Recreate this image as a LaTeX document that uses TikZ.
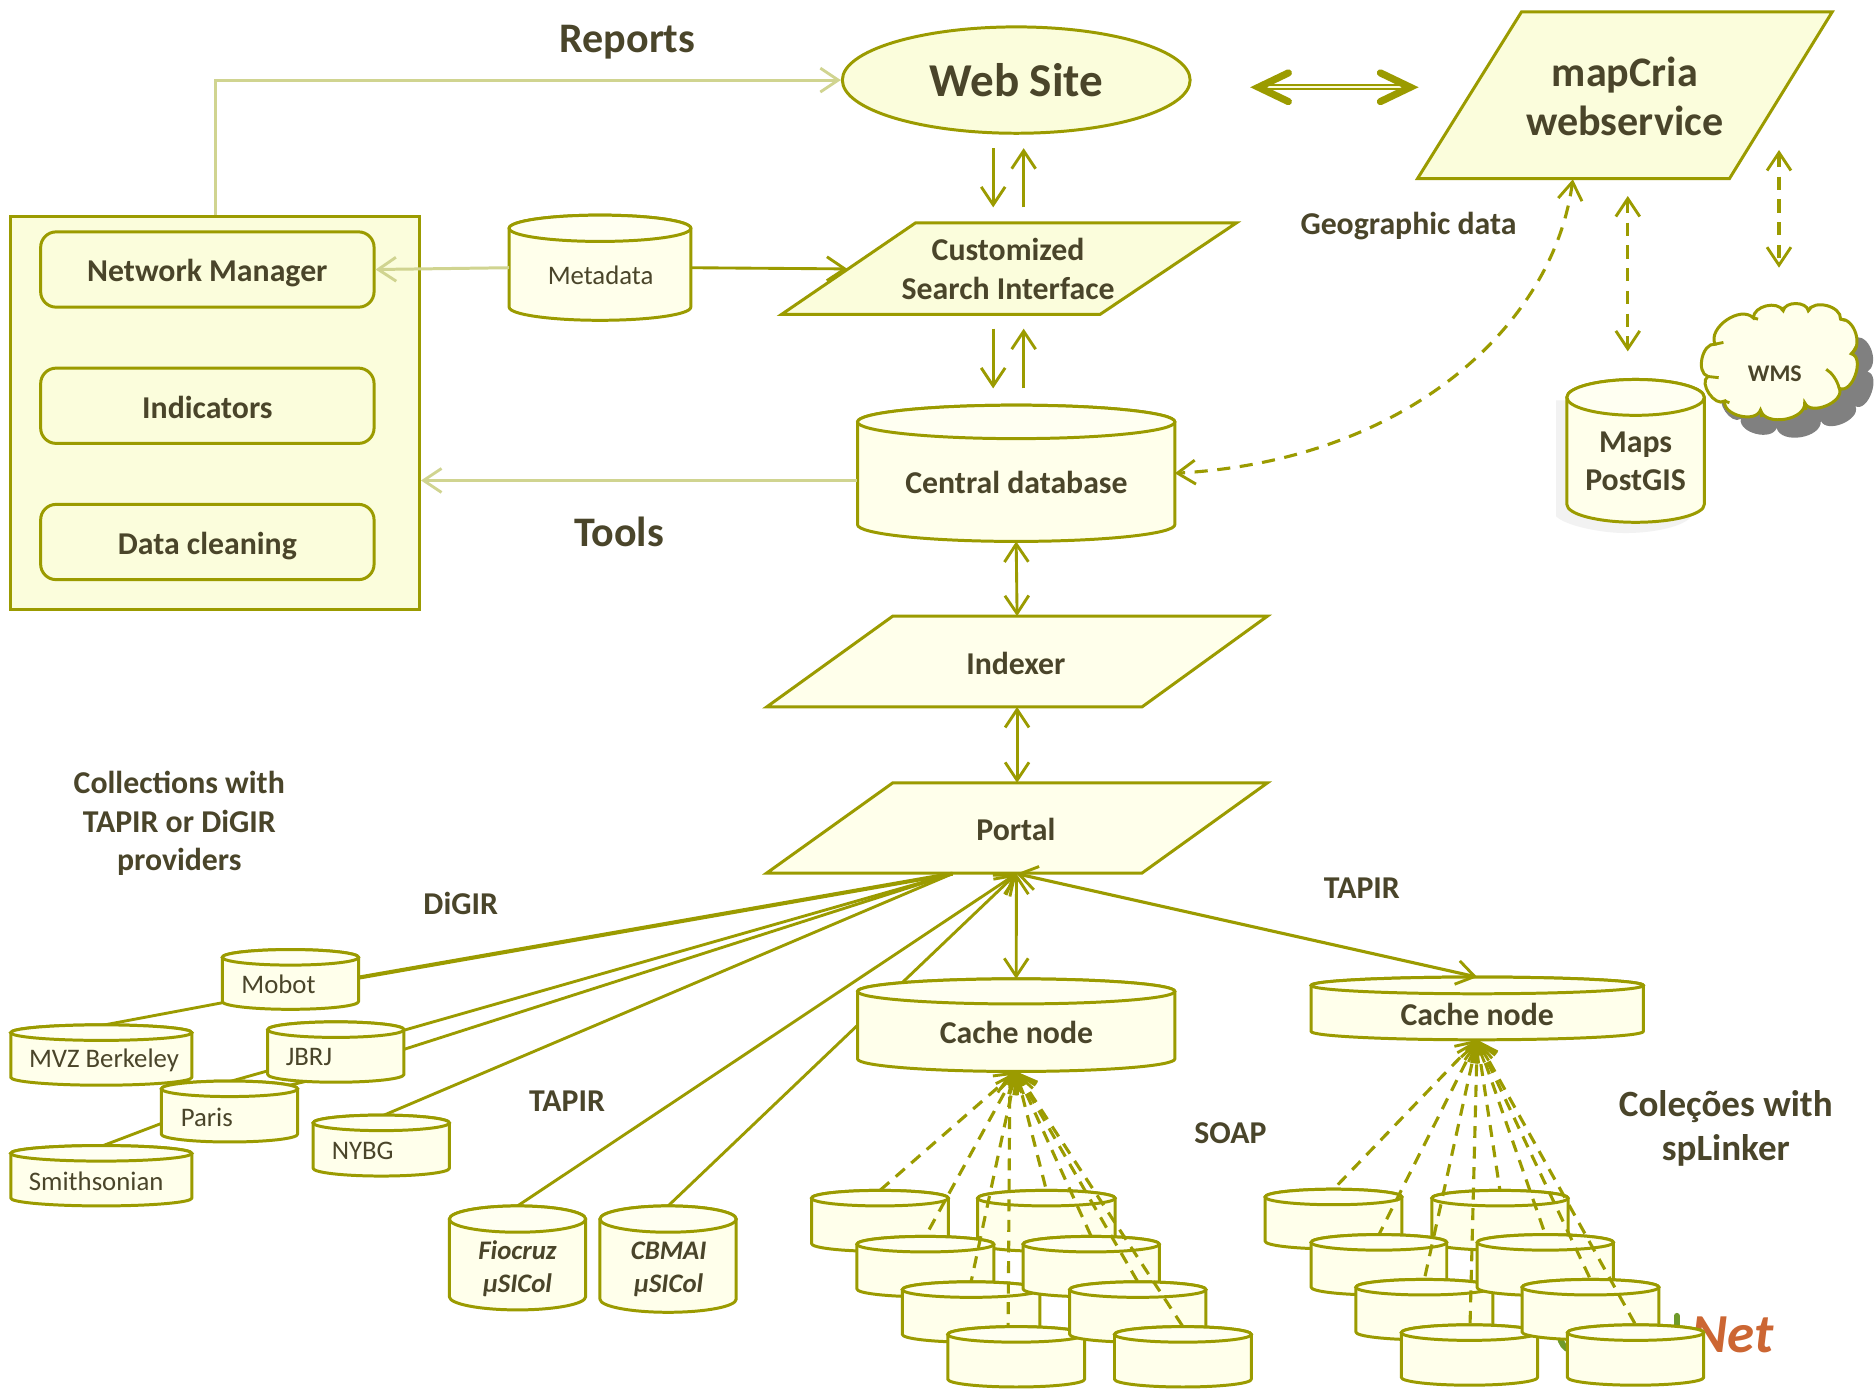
\documentclass[tikz,border=0pt]{standalone}
\usepackage{fontspec}
\setmainfont{Carlito}
\usetikzlibrary{arrows.meta,shapes.geometric,calc}
\definecolor{ol}{HTML}{9B9B00}
\definecolor{olL}{HTML}{D0D490}
\definecolor{txt}{HTML}{4A452A}
\definecolor{fillA}{HTML}{FBFDDC}
\definecolor{fillB}{HTML}{FFFFEB}
\definecolor{fillC}{HTML}{FFFFF2}
\definecolor{netc}{HTML}{CC6633}
\definecolor{leaf}{HTML}{6F9A2A}
\tikzset{
  cylline/.style={draw=ol,line width=1.25pt,fill=fillB,line join=round},
  cyltop/.style={draw=ol,line width=1.25pt,fill=fillC},
  anchorbox/.style={inner sep=0pt,outer sep=0pt},
  parashape/.style={draw=ol,line width=1.25pt,fill=#1,line join=miter},
  parashape/.default=fillB,
  lab/.style={text=txt,align=center,inner sep=0pt},
  fBig/.style={lab,font=\fontsize{17.6}{20.7}\selectfont\bfseries},
  fMid/.style={lab,font=\fontsize{13.3}{16}\selectfont\bfseries},
  fReg/.style={lab,font=\fontsize{11.2}{13.5}\selectfont},
  fIt/.style={lab,font=\fontsize{11.2}{13.5}\selectfont\bfseries\itshape},
  conn/.style={draw=ol,line width=1.2pt},
  connL/.style={draw=olL,line width=1.25pt},
  dsh/.style={draw=ol,line width=1.3pt,dash pattern=on 5pt off 3.6pt},
  >={Straight Barb[length=7.5pt,width=10pt,line width=1.2pt]},
  rbox/.style={draw=ol,line width=1.25pt,fill=fillA,rounded corners=6.5pt,minimum width=139.5pt,minimum height=31.5pt,inner sep=0pt,fMid,text height=10.4pt,text depth=0pt},
}
% name, x1, x2, top, bottom, ry, label position, label style, label text
\newcommand{\cyl}[9]{%
  \pgfmathsetmacro\cylcx{(#2+#3)/2}%
  \pgfmathsetmacro\cylrx{(#3-#2)/2}%
  \pgfmathsetmacro\cylyc{#4+#6}%
  \pgfmathsetmacro\cylyb{#5-#6}%
  \pgfmathsetmacro\cylkx{\cylrx*0.5523}%
  \pgfmathsetmacro\cylky{#6*0.5523}%
  \draw[cylline] (#2,\cylyc) -- (#2,\cylyb)
    .. controls (#2,\cylyb+\cylky) and (\cylcx-\cylkx,#5) .. (\cylcx,#5)
    .. controls (\cylcx+\cylkx,#5) and (#3,\cylyb+\cylky) .. (#3,\cylyb)
    -- (#3,\cylyc)
    .. controls (#3,\cylyc-\cylky) and (\cylcx+\cylkx,#4) .. (\cylcx,#4)
    .. controls (\cylcx-\cylkx,#4) and (#2,\cylyc-\cylky) .. (#2,\cylyc) -- cycle;
  \draw[cyltop] (#2,\cylyc)
    .. controls (#2,\cylyc+\cylky) and (\cylcx-\cylkx,\cylyc+#6) .. (\cylcx,\cylyc+#6)
    .. controls (\cylcx+\cylkx,\cylyc+#6) and (#3,\cylyc+\cylky) .. (#3,\cylyc)
    .. controls (#3,\cylyc-\cylky) and (\cylcx+\cylkx,#4) .. (\cylcx,#4)
    .. controls (\cylcx-\cylkx,#4) and (#2,\cylyc-\cylky) .. (#2,\cylyc) -- cycle;
  \node[anchorbox,minimum width={(#3-#2)*0.5pt},minimum height={(#5-#4)*0.5pt}] (#1) at (\cylcx,{(#4+#5)/2}) {};
  \node[#8] (#1-t) at (#7) {#9};
}
% name, TLx, TRx, BRx, BLx, top, bottom, fill
\newcommand{\para}[8]{%
  \draw[parashape=#8] (#2,#6) -- (#3,#6) -- (#4,#7) -- (#5,#7) -- cycle;
  \node[anchorbox,minimum width={(#3-#5)*0.5pt},minimum height={(#7-#6)*0.5pt}] (#1) at ({(#3+#5)/2},{(#6+#7)/2}) {};
}
\begin{document}
\begin{tikzpicture}[x=0.5pt,y=-0.5pt]
\fill[white] (0,0) rectangle (1568,1163);
\useasboundingbox (0,0) rectangle (1568,1163);

% tools box
\node[draw=ol,line width=1.25pt,fill=fillA,minimum width=171pt,minimum height=164.5pt,inner sep=0pt] (box) at (180,345.5) {};
\node[rbox] (nm) at (173.5,225.5) {Network Manager};
\node[rbox] (ind) at (173.5,339.5) {Indicators};
\node[rbox] (dc) at (173.5,453.5) {Data cleaning};

% top
\node[ellipse,draw=ol,line width=1.25pt,fill=fillA,minimum width=145.5pt,minimum height=44.5pt,inner sep=0pt,lab,font=\fontsize{19.7}{23}\selectfont\bfseries] (web) at (850.3,67) {Web Site};
\node[fBig] (rep) at (525,35) {Reports};
\node[fBig] (tools) at (518,445) {Tools};
\draw[connL,->] (box.north) -- (box.north |- web.west) -- (web.west);

\para{mc}{1273}{1533}{1447}{1186}{10}{149.5}{fillA}
\node[fBig] (mct) at (1359.5,80.5) {mapCria\\webservice};
\coordinate (wsr) at (1053,73);
\coordinate (mcl) at (1180,73);
\draw[draw=ol,line width=.85pt,double=fillA,double distance=1pt] (wsr) -- (mcl);
\draw[draw=ol,line width=3pt,line cap=round,miter limit=10] ($(wsr)+(25,-12)$) -- (wsr) -- ($(wsr)+(25,12)$);
\draw[draw=ol,line width=3pt,line cap=round,miter limit=10] ($(mcl)+(-25,-12)$) -- (mcl) -- ($(mcl)+(-25,12)$);

\para{csi}{766}{1034.5}{920.5}{654}{186.5}{263}{fillA}
\node[fMid] (csit) at (843.5,225) {Customized\\Search Interface};
\coordinate (a1) at (831,124); \coordinate (a1b) at (831,173.5);
\coordinate (a2) at (856.5,124); \coordinate (a2b) at (856.5,173.5);
\coordinate (a3) at (831,275); \coordinate (a3b) at (831,325);
\coordinate (a4) at (856.5,275); \coordinate (a4b) at (856.5,325);
\draw[conn,->] (a1) -- (a1b);
\draw[conn,->] (a2b) -- (a2);
\draw[conn,->] (a3) -- (a3b);
\draw[conn,->] (a4b) -- (a4);

\node[fMid] (geo) at (1178.5,189) {Geographic data};

\cyl{meta}{426}{578}{180}{268}{11}{502.5,230}{fReg}{Metadata}
\coordinate (csil) at (709,225);
\draw[connL,->] (meta.west) -- (nm.east);
\draw[conn,->] (meta.east) -- (csil);

\cyl{central}{717.5}{983}{339}{453}{14}{850.5,404}{fMid}{Central database}
\coordinate (cl) at (717,402);
\draw[connL,->] (cl) -- (cl -| box.east);

% Maps + WMS
\fill[black!5!white] (1302,335) -- (1302,432) .. controls (1310,440) and (1340,446) .. (1360,446) .. controls (1385,446) and (1410,440) .. (1415,432) -- (1415,335) -- cycle;
\cyl{maps}{1311}{1426}{317.5}{437}{15}{1368.5,386}{fMid}{Maps\\PostGIS}
\def\cloudpath{(1435,288) to[bend left=80] (1467,266) to[bend left=75] (1492,260) to[bend left=80] (1513,260) to[bend left=80] (1540,267) to[bend left=75] (1549,296) to[bend left=95] (1539,325) to[bend left=90] (1510,337) to[bend left=85] (1473,343) to[bend left=85] (1443,335.5) to[bend left=90] (1429,315) to[bend left=85] (1435,288) -- cycle}
\fill[black!50!white,shift={(13.5,15)}] \cloudpath;
\draw[draw=ol,line width=1.25pt,fill=fillB] \cloudpath;
\draw[draw=ol,line width=1.2pt]
  (1435,288) -- (1442,286.5)
  (1429,315) -- (1438,316)
  (1443,335.5) -- (1447,337)
  (1473,343) -- (1474,349)
  (1510,337) -- (1511,343)
  (1549,297) -- (1553,290)
  (1540,267) -- (1544,268)
  (1513,260) -- (1515,257)
  (1492,260) -- (1491,257)
  (1467,266) -- (1471,267);
\draw[draw=ol,line width=1.2pt] (1528,309) .. controls (1533,312) and (1537,318) .. (1539,325);
\node[lab,font=\fontsize{10}{12}\selectfont\bfseries] (wms) at (1485,313) {WMS};

\coordinate (mcb) at (1316,150);
\draw[dsh,<->,dash pattern=on 5.5pt off 4pt] (mcb) .. controls (1300,270) and (1180,385) .. (central.east);
\coordinate (d1t) at (1362,164); \coordinate (d1b) at (1362,294);
\coordinate (d2t) at (1488.5,125.5); \coordinate (d2b) at (1488.5,224);
\draw[dsh,<->,dash pattern=on 5.5pt off 4pt] (d1t) -- (d1b);
\draw[dsh,<->,dash pattern=on 5.5pt off 4pt] (d2t) -- (d2b);

% centre column
\para{idx}{747}{1060.5}{955.5}{641.5}{515.5}{591.5}{fillB}
\node[fMid] (idxt) at (850,555) {Indexer};
\para{por}{747}{1060.5}{955.5}{641.5}{655}{730.5}{fillB}
\node[fMid] (port) at (850,694) {Portal};
\draw[conn,<->] (central.south) -- (idx.north);
\draw[conn,<->] (idx.south) -- (por.north);

\coordinate (pl) at (797,731);
\coordinate (pc) at (850.5,731);

% labels
\node[fMid] (coll) at (150,689) {Collections with\\TAPIR or DiGIR\\providers};
\node[fMid] (dig) at (385.5,756) {DiGIR};
\node[fMid] (tap1) at (474.5,921) {TAPIR};
\node[fMid] (tap2) at (1139.5,743) {TAPIR};
\node[fMid] (soap) at (1029.5,948) {SOAP};
\node[lab,font=\fontsize{15.5}{18.5}\selectfont\bfseries] (col) at (1444,944) {Coleções with\\spLinker};

% portal fan: lines first, shapes over them
\coordinate (mob-e) at (300,818);
\coordinate (j1) at (338,862);
\coordinate (j2) at (338,878);
\coordinate (nyn) at (319,934);
\coordinate (mob-sw) at (186,839);
\coordinate (mvz-n) at (85,858);
\coordinate (j3) at (224,896);
\coordinate (par-n) at (192,905);
\coordinate (j4) at (255,905);
\coordinate (par-ne) at (238,909);
\coordinate (par-sw) at (135,940);
\coordinate (smi-n) at (85,959);
\draw[conn,line width=1.7pt] (pl) -- (mob-e);
\draw[conn] (pl) -- (j1);
\draw[conn] (pl) -- (j2);
\draw[conn] (pl) -- (nyn);
\draw[conn] (mob-sw) -- (mvz-n);
\draw[conn] (j3) -- (par-n);
\draw[conn] (j4) -- (par-ne);
\draw[conn] (par-sw) -- (smi-n);
\coordinate (fi-n) at (433,1009);
\coordinate (cb-n) at (559,1009);
\draw[conn,<-] (pc) -- (fi-n);
\draw[conn,<-] (pc) -- (cb-n);

\cyl{mobot}{186}{300}{794.5}{844.5}{6.5}{233,823.5}{fReg}{Mobot}
\cyl{mvz}{9}{160.5}{857.5}{908}{6.5}{87,887}{fReg}{MVZ Berkeley}
\cyl{jbrj}{224}{338}{855}{905.5}{6.5}{258.5,884.5}{fReg}{JBRJ}
\cyl{paris}{135}{249}{904.5}{955.5}{6.5}{173,934.5}{fReg}{Paris}
\cyl{nybg}{262}{376}{933}{984}{6.5}{303.5,963}{fReg}{NYBG}
\cyl{smith}{9}{160.5}{958.5}{1009}{6.5}{80.5,988}{fReg}{Smithsonian}
\cyl{fio}{376}{490}{1009}{1096}{11}{433,1061.5}{fIt}{Fiocruz\\µSICol}
\cyl{cbm}{502}{616}{1009}{1098}{11}{559.5,1062}{fIt}{CBMAI\\µSICol}

\cyl{cache1}{717.5}{983}{819}{896.5}{10.5}{850.5,864}{fMid}{Cache node}
\cyl{cache2}{1097}{1375}{817.5}{870}{7}{1236,849}{fMid}{Cache node}
\draw[conn,<->] (pc) -- (cache1.north);
\draw[conn,line width=1.3pt,<->] (pc) -- (cache2.north);

% logo behind the right group
\draw[leaf,line width=2.5pt,line cap=round] (1403,1101) -- (1403,1112);
\draw[leaf,line width=2.5pt,line cap=round] (1305,1118) .. controls (1306,1124) and (1309,1128) .. (1314,1130);
\node[font=\fontsize{23}{25}\selectfont\bfseries\itshape,text=netc,inner sep=0pt] (net) at (1449.5,1117) {Net};

% left group
\cyl{c1}{679}{793.5}{996}{1047}{6.5}{736,1020}{lab}{}
\draw[dsh,<-] (cache1.south) -- (c1.north);
\cyl{c2}{818}{933}{996}{1047}{6.5}{875,1020}{lab}{}
\draw[dsh,<-] (cache1.south) -- (c2.north);
\cyl{c3}{717}{831.5}{1034.5}{1085}{6.5}{774,1060}{lab}{}
\draw[dsh,<-] (cache1.south) -- (c3.north);
\cyl{c5}{755}{870}{1072.5}{1123}{6.5}{812,1098}{lab}{}
\draw[dsh,<-] (cache1.south) -- (c5.north);
\cyl{c4}{856}{970}{1034.5}{1085}{6.5}{913,1060}{lab}{}
\draw[dsh,<-] (cache1.south) -- (c4.north);
\cyl{c7}{793}{907.5}{1110}{1160.5}{6.5}{850,1135}{lab}{}
\coordinate (c7in) at (843.5,1110);
\coordinate (c7top) at (845,897);
\draw[dsh,<-] (c7top) -- (c7in);
\cyl{c6}{895}{1009}{1072.5}{1123}{6.5}{952,1098}{lab}{}
\draw[dsh,<-] (cache1.south) -- (c6.north);
\cyl{c8}{932.5}{1047}{1110}{1160.5}{6.5}{990,1135}{lab}{}
\draw[dsh,<-] (cache1.south) -- (c8.north);

% right group
\cyl{r1}{1058.5}{1173}{995}{1045}{6.5}{1116,1020}{lab}{}
\draw[dsh,<-] (cache2.south) -- (r1.north);
\cyl{r2}{1198}{1312}{996}{1046}{6.5}{1255,1020}{lab}{}
\draw[dsh,<-] (cache2.south) -- (r2.north);
\cyl{r3}{1097}{1210.5}{1033}{1083.5}{6.5}{1154,1058}{lab}{}
\draw[dsh,<-] (cache2.south) -- (r3.north);
\cyl{r5}{1134.5}{1249}{1070.5}{1121}{6.5}{1192,1096}{lab}{}
\draw[dsh,<-] (cache2.south) -- (r5.north);
\cyl{r4}{1236}{1350}{1033}{1084}{6.5}{1293,1058}{lab}{}
\draw[dsh,<-] (cache2.south) -- (r4.north);
\cyl{r7}{1172.5}{1286.5}{1108.5}{1159}{6.5}{1229,1134}{lab}{}
\coordinate (r7in) at (1230,1108.5);
\draw[dsh,<-] (cache2.south) -- (r7in);
\cyl{r6}{1273.5}{1388}{1070.5}{1121}{6.5}{1331,1096}{lab}{}
\draw[dsh,<-] (cache2.south) -- (r6.north);
\cyl{r8}{1311.5}{1425.5}{1108.5}{1159}{6.5}{1368,1134}{lab}{}
\draw[dsh,<-] (cache2.south) -- (r8.north);
\end{tikzpicture}
\end{document}
